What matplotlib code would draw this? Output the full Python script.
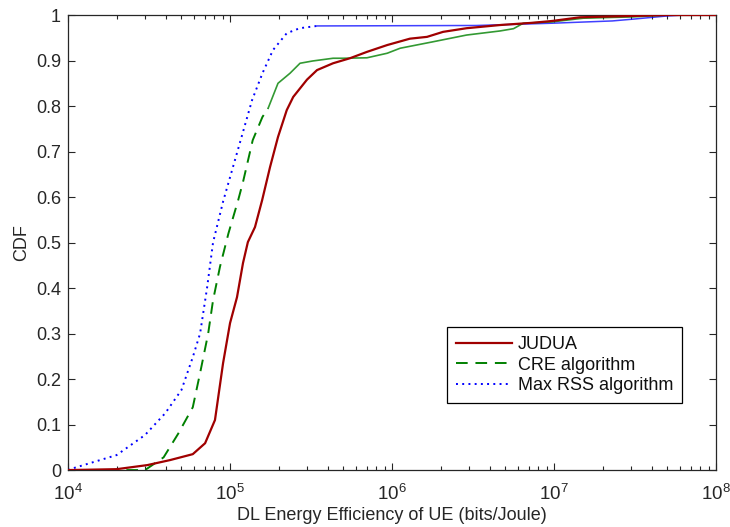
import numpy as np
import matplotlib
matplotlib.use("Agg")
from matplotlib import pyplot as plt
from matplotlib.ticker import LogLocator, NullFormatter

plt.rcParams['font.family'] = ['Liberation Sans', 'DejaVu Sans']
plt.rcParams['mathtext.fontset'] = 'custom'
plt.rcParams['mathtext.rm'] = 'Liberation Sans'

# log10 of energy efficiency, CDF value
judua_lx = [4.0, 4.30, 4.49, 4.63, 4.77, 4.846, 4.907, 4.957, 5.0, 5.043, 5.08, 5.11,
            5.154, 5.198, 5.247, 5.296, 5.35, 5.39, 5.475, 5.537, 5.636, 5.74, 5.845,
            5.97, 6.11, 6.216, 6.315, 6.46, 6.667, 6.87, 6.99, 7.16, 7.49, 7.70, 8.0]
judua_cdf = [0.0, 0.002, 0.011, 0.022, 0.035, 0.059, 0.11, 0.235, 0.323, 0.38, 0.455, 0.501,
             0.534, 0.593, 0.666, 0.732, 0.791, 0.82, 0.858, 0.879, 0.894, 0.905, 0.919,
             0.934, 0.948, 0.952, 0.963, 0.971, 0.978, 0.983, 0.987, 0.995, 0.998, 1.0, 1.0]

cre_lx = [4.0, 4.475, 4.59, 4.68, 4.77, 4.815, 4.865, 4.895, 4.938, 4.99, 5.05, 5.08,
          5.14, 5.20, 5.235, 5.296, 5.37, 5.432, 5.51, 5.636, 5.70, 5.845, 5.97, 6.05,
          6.25, 6.46, 6.667, 6.75, 6.81, 6.99, 7.18, 7.49, 7.70, 8.0]
cre_cdf = [0.0, 0.0, 0.028, 0.08, 0.138, 0.213, 0.30, 0.373, 0.447, 0.52, 0.593, 0.633,
           0.725, 0.776, 0.795, 0.85, 0.872, 0.894, 0.899, 0.905, 0.905, 0.906, 0.916, 0.927,
           0.941, 0.956, 0.965, 0.97, 0.982, 0.985, 0.993, 0.996, 1.0, 1.0]

rss_lx = [4.0, 4.031, 4.30, 4.475, 4.60, 4.70, 4.77, 4.815, 4.858, 4.895, 4.957, 5.043,
          5.136, 5.20, 5.265, 5.35, 5.43, 5.537, 6.52, 6.99, 7.36, 7.49, 7.70, 7.80]
rss_cdf = [0.0, 0.004, 0.033, 0.077, 0.125, 0.176, 0.248, 0.30, 0.40, 0.50, 0.59, 0.697,
           0.813, 0.872, 0.923, 0.960, 0.971, 0.976, 0.977, 0.982, 0.987, 0.991, 0.998, 1.0]

judua_x = 10.0 ** np.array(judua_lx)
cre_x = 10.0 ** np.array(cre_lx)
rss_x = 10.0 ** np.array(rss_lx)

fig = plt.figure(figsize=(7.3, 5.27), dpi=100)
ax = fig.add_axes([0.0932, 0.108, 0.8877, 0.8635])

red = '#a00000'
green = '#008000'
blue = '#0000ff'
txt = '#262626'

ax.plot(judua_x, judua_cdf, color=red, lw=1.6, label='JUDUA', zorder=5)

# dashed / dotted patterns fade into solid where the curve is dense
k = 14
ax.plot(cre_x[:k + 1], cre_cdf[:k + 1], color=green, lw=1.4, ls=(0, (6, 4)),
        label='CRE algorithm', zorder=4)
ax.plot(cre_x[k:], cre_cdf[k:], color=green, lw=1.2, alpha=0.8, zorder=4)

j = 17
ax.plot(rss_x[:j + 1], rss_cdf[:j + 1], color=blue, lw=1.4, ls=(0, (1, 2.2)),
        label='Max RSS algorithm', zorder=3)
ax.plot(rss_x[j:], rss_cdf[j:], color=blue, lw=1.1, alpha=0.75, zorder=3)

ax.set_xscale('log')
ax.set_xlim(1e4, 1e8)
ax.set_ylim(0, 1)
ax.set_yticks(np.arange(0, 1.01, 0.1))
ax.set_yticklabels(['0', '0.1', '0.2', '0.3', '0.4', '0.5', '0.6', '0.7', '0.8', '0.9', '1'])
ax.xaxis.set_major_locator(LogLocator(base=10, numticks=10))
ax.xaxis.set_minor_locator(LogLocator(base=10, subs=np.arange(2, 10), numticks=100))
ax.xaxis.set_minor_formatter(NullFormatter())

ax.tick_params(which='both', direction='in', top=True, right=True, labelsize=13,
               color=txt, width=0.8, labelcolor=txt)
ax.tick_params(which='major', length=5)
ax.tick_params(which='minor', length=3)
ax.tick_params(axis='y', pad=5)
ax.tick_params(axis='x', pad=10, labelsize=13.5)
for s in ax.spines.values():
    s.set_linewidth(0.9)
    s.set_color(txt)

ax.set_xlabel('DL Energy Efficiency of UE (bits/Joule)', fontsize=13, color=txt, labelpad=2)
ax.set_ylabel('CDF', fontsize=13, color=txt, labelpad=4)

leg = ax.legend(loc='lower left', bbox_to_anchor=(0.585, 0.147), fontsize=13,
                fancybox=False, edgecolor='black', framealpha=1, handlelength=3.1,
                borderpad=0.5, labelspacing=0.2, handletextpad=0.3, borderaxespad=0)
leg.get_frame().set_linewidth(0.9)
for t in leg.get_texts():
    t.set_color('#111111')

plt.savefig("out.png", dpi=100)
